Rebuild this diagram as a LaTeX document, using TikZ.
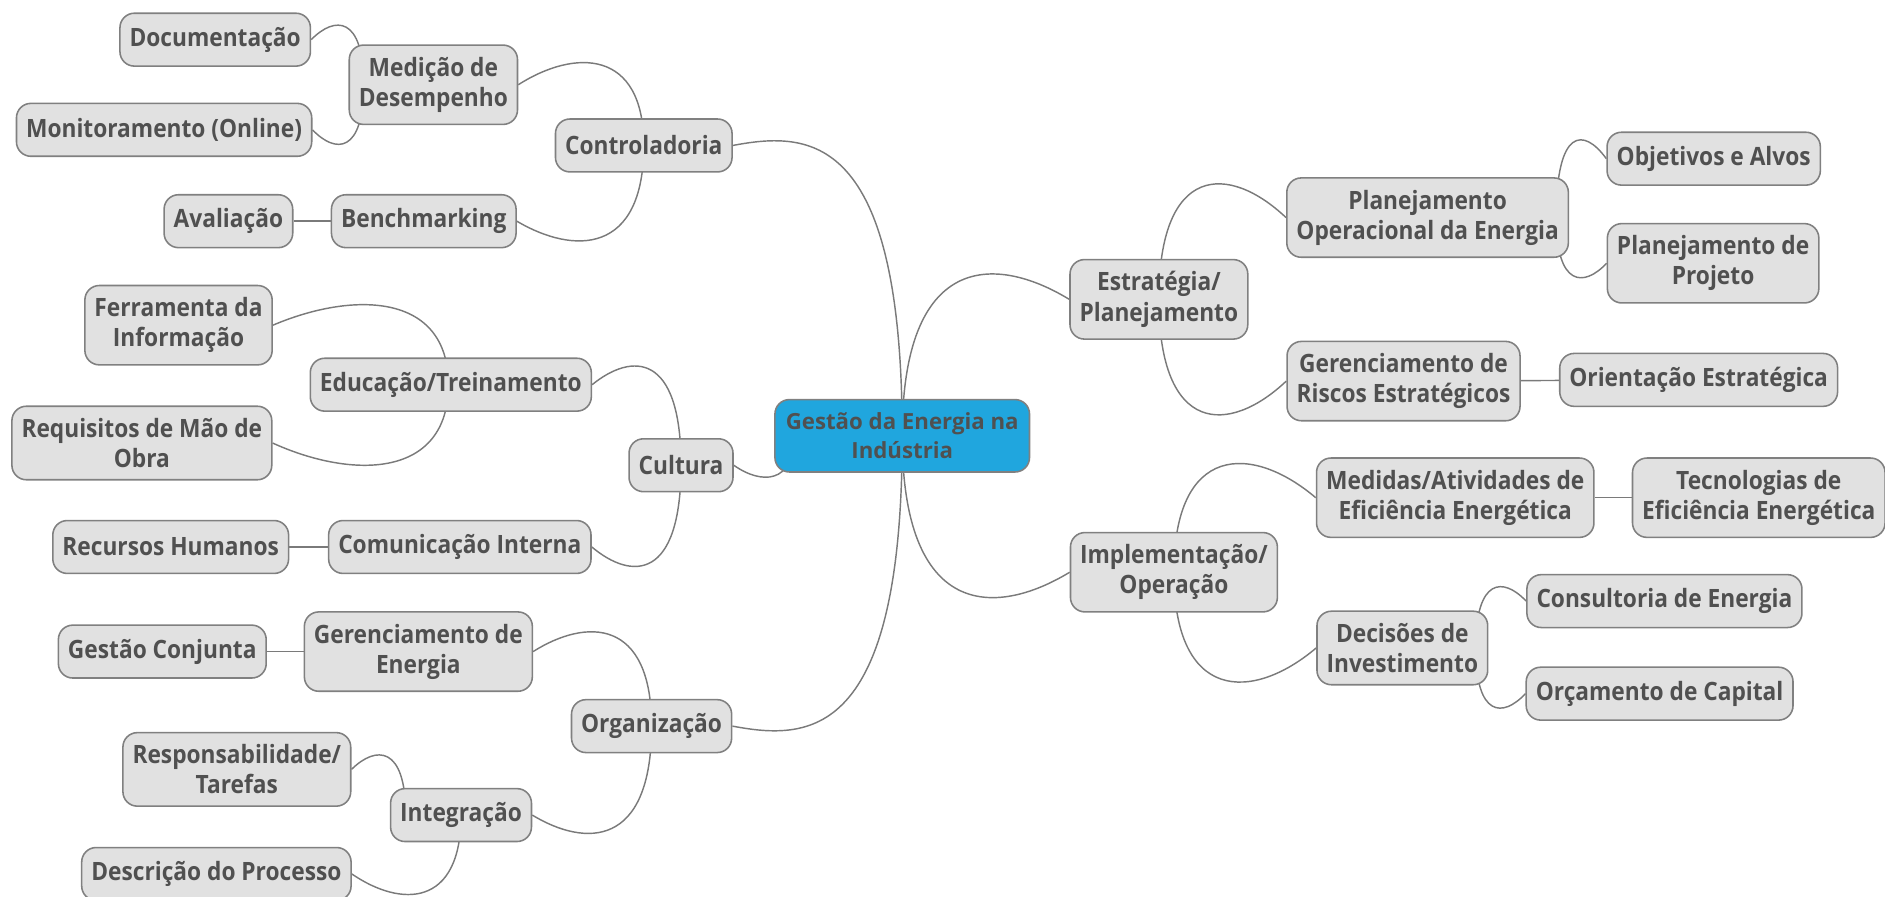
\documentclass[tikz,border=0pt]{standalone}
\usepackage{fontspec}
\newfontfamily\topicfont{Open Sans}[FakeStretch=0.9]
\newfontfamily\centralfont{Open Sans}
\usetikzlibrary{backgrounds,calc}
\definecolor{boxfill}{HTML}{E1E1E1}
\definecolor{boxline}{HTML}{808080}
\definecolor{txt}{HTML}{505050}
\definecolor{rootfill}{HTML}{20A6DE}
\definecolor{wire}{HTML}{7A7A7A}
\tikzset{
  topic/.style={draw=boxline, fill=boxfill, line width=1.3pt, rounded corners=12pt,
    text=txt, font=\topicfont\bfseries\fontsize{21}{25}\selectfont, align=center,
    inner xsep=8pt, inner ysep=10pt, minimum height=44pt},
  central/.style={topic, fill=rootfill, font=\centralfont\bfseries\fontsize{18.5}{24}\selectfont,
    inner xsep=9pt, inner ysep=11pt},
  wireline/.style={draw=wire, line width=1.2pt},
  % curved branch: leaves the parent vertically, overshoots the child's level, enters it sideways
  branch/.style={wireline, to path={let \p1=(\tikztostart), \p2=(\tikztotarget), \n1={sign(\y2-\y1)} in
    .. controls (\x1,{\y2+\n1*#1}) and ({\x2+0.45*(\x1-\x2)},{\y2+\n1*#1}) .. (\tikztotarget)}},
  branch/.default=24
}
\begin{document}
\begin{tikzpicture}[x=1pt,y=-1pt]
\useasboundingbox (0,0) rectangle (1568,746);

% central topic
\node[central] (root) at (750.5,362.5) {Gestão da Energia na\\Indústria};

% left: Controladoria
\node[topic] (ctrl)  at (535.5,121) {Controladoria};
\node[topic] (med)   at (360.5,70.5) {Medição de\\Desempenho};
\node[topic] (doc)   at (179,33) {Documentação};
\node[topic] (mon)   at (136.5,108) {Monitoramento (Online)};
\node[topic] (bench) at (352.5,184) {Benchmarking};
\node[topic] (aval)  at (190,184) {Avaliação};

% left: Cultura
\node[topic] (cult)  at (566.5,387) {Cultura};
\node[topic] (edu)   at (375,320) {Educação/Treinamento};
\node[topic] (ferr)  at (148.5,270.5) {Ferramenta da\\Informação};
\node[topic] (req)   at (118,368.5) {Requisitos de Mão de\\Obra};
\node[topic] (com)   at (382.5,455) {Comunicação Interna};
\node[topic] (rh)    at (142,455) {Recursos Humanos};

% left: Organização
\node[topic] (org)   at (542,604) {Organização};
\node[topic] (gen)   at (348,542) {Gerenciamento de\\Energia};
\node[topic] (gc)    at (135,542) {Gestão Conjunta};
\node[topic] (integ) at (383.5,678) {Integração};
\node[topic] (resp)  at (197,640) {Responsabilidade/\\Tarefas};
\node[topic] (desc)  at (180,727) {Descrição do Processo};

% right: Estratégia
\node[topic] (est)    at (964,249) {Estratégia/\\Planejamento};
\node[topic] (planop) at (1187.5,181) {Planejamento\\Operacional da Energia};
\node[topic] (obj)    at (1425.5,132) {Objetivos e Alvos};
\node[topic] (proj)   at (1425,219) {Planejamento de\\Projeto};
\node[topic] (risk)   at (1167.5,317) {Gerenciamento de\\Riscos Estratégicos};
\node[topic] (ori)    at (1413,316) {Orientação Estratégica};

% right: Implementação
\node[topic] (impl)  at (976.5,476) {Implementação/\\Operação};
\node[topic] (meas)  at (1210.5,414) {Medidas/Atividades de\\Eficiência Energética};
\node[topic] (tec)   at (1463,414) {Tecnologias de\\Eficiência Energética};
\node[topic] (dec)   at (1166.5,539) {Decisões de\\Investimento};
\node[topic] (cons)  at (1384.5,500) {Consultoria de Energia};
\node[topic] (orc)   at (1380.5,577) {Orçamento de Capital};

\begin{scope}[on background layer]
  % main branches
  \draw[branch=12] (root.center) to (ctrl.east);
  \draw[branch=12] (root.center) to (org.east);
  \draw[branch=16] ([xshift=-90pt]root.center) to (cult.east);
  \draw[branch=38] (root.center) to (est.west);
  \draw[branch=38] (root.center) to (impl.west);
  % Controladoria
  \draw[branch=30] (ctrl.center) to (med.east);
  \draw[branch=28] (ctrl.center) to (bench.east);
  \draw[branch=20] ([xshift=-58pt]med.center) to (doc.east);
  \draw[branch=20] ([xshift=-58pt]med.center) to (mon.east);
  \draw[wireline] (bench) -- (aval);
  % Cultura
  \draw[branch=27] (cult.center) to (edu.east);
  \draw[branch=28] (cult.center) to (com.east);
  \draw[branch=28] ([xshift=-2pt]edu.center) to (ferr.east);
  \draw[branch=30] ([xshift=-2pt]edu.center) to (req.east);
  \draw[wireline] (com) -- (rh);
  % Organização
  \draw[branch=28] (org.center) to (gen.east);
  \draw[branch=27] (org.center) to (integ.east);
  \draw[wireline] (gen) -- (gc);
  \draw[branch=20] ([xshift=-46pt]integ.center) to (resp.east);
  \draw[branch=28] (integ.center) to (desc.east);
  % Estratégia
  \draw[branch=45] (est.center) to (planop.west);
  \draw[branch=45] (est.center) to (risk.west);
  \draw[branch=26] ([xshift=107pt]planop.center) to (obj.west);
  \draw[branch=20] ([xshift=107pt]planop.center) to (proj.west);
  \draw[wireline] (risk) -- (ori);
  % Implementação
  \draw[branch=45] (impl.center) to (meas.west);
  \draw[branch=45] (impl.center) to (dec.west);
  \draw[wireline] (meas) -- (tec);
  \draw[branch=20] ([xshift=61pt]dec.center) to (cons.west);
  \draw[branch=20] ([xshift=61pt]dec.center) to (orc.west);
\end{scope}
\end{tikzpicture}
\end{document}
